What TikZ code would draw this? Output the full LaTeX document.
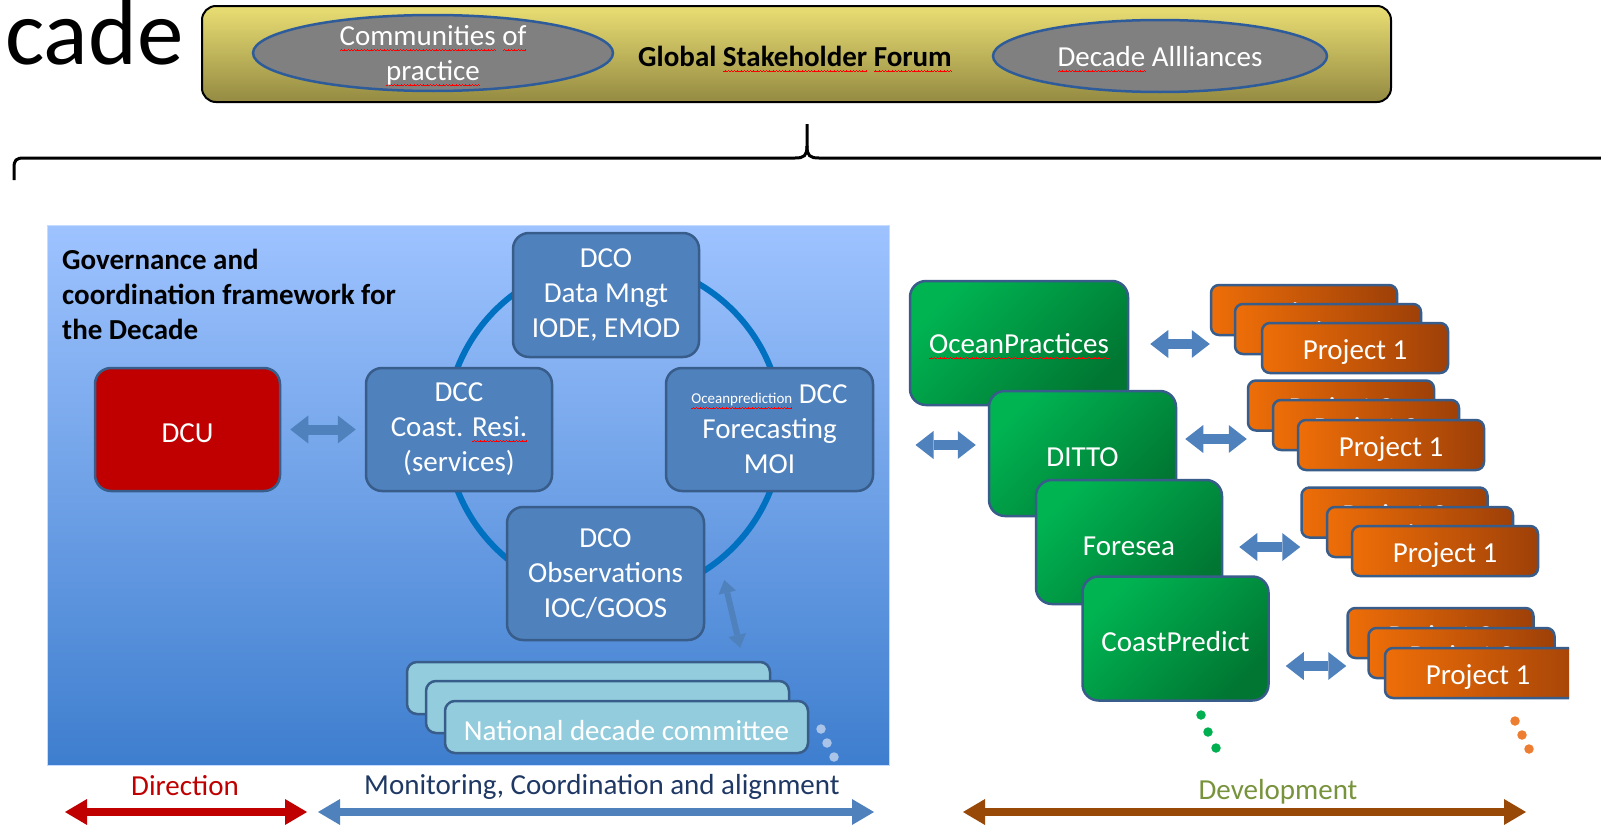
\documentclass[tikz,border=0pt]{standalone}
\usepackage{fontspec}
\setmainfont{Carlito}
\usetikzlibrary{arrows.meta,shapes.geometric,calc}
\definecolor{panTop}{RGB}{158,195,255}
\definecolor{panBot}{RGB}{62,126,206}
\definecolor{boxblue}{RGB}{79,129,189}
\definecolor{bord}{RGB}{56,93,138}
\definecolor{dcured}{RGB}{192,0,0}
\definecolor{grL}{RGB}{0,180,82}
\definecolor{grD}{RGB}{0,118,50}
\definecolor{orL}{RGB}{238,110,8}
\definecolor{orD}{RGB}{158,64,8}
\definecolor{natfill}{RGB}{147,205,221}
\definecolor{ylTop}{RGB}{233,222,115}
\definecolor{ylBot}{RGB}{148,138,66}
\definecolor{ellfill}{RGB}{128,128,128}
\definecolor{ellbord}{RGB}{46,92,154}
\definecolor{ringc}{RGB}{0,112,192}
\definecolor{montext}{RGB}{31,56,100}
\definecolor{devgreen}{RGB}{119,147,60}
\definecolor{brownc}{RGB}{152,72,7}
\definecolor{natdot}{RGB}{169,196,232}
\definecolor{ordot}{RGB}{237,125,49}
\definecolor{grdot}{RGB}{0,176,80}
\newsavebox\sqbox
\newcommand\sq[2]{\sbox\sqbox{#2}\rlap{\color{red}\hbox to \wd\sqbox{\xleaders\hbox{\rule[-5.2pt]{0.8pt}{0.8pt}\rule[-4.5pt]{0.8pt}{0.8pt}\rule[-3.8pt]{0.8pt}{0.8pt}\rule[-4.5pt]{0.8pt}{0.8pt}}\hfil}}{\color{#1}#2}}
\newcommand\hid[2]{\raisebox{-#1pt}{#2}}
\begin{document}
\begin{tikzpicture}[x=1pt,y=-1pt,
  every node/.style={inner sep=0pt},
  txt/.style={font=\fontsize{29}{35}\selectfont, align=center},
  low/.style={execute at begin node={\rule{0pt}{27pt}}},
  bx/.style={txt, low, draw=bord, line width=2.5pt, rounded corners=16pt, text=white},
  bluebox/.style={bx, fill=boxblue},
  greenbox/.style={bx, top color=grL, bottom color=grD, shading angle=45, minimum width=186pt, minimum height=124pt},
  orbox/.style={bx, rounded corners=8pt, left color=orL, right color=orD, minimum width=186pt, minimum height=50pt},
  natbox/.style={bx, rounded corners=10pt, fill=natfill, minimum width=363pt, minimum height=52pt},
  ell/.style={ellipse, draw=ellbord, line width=2.5pt, fill=ellfill, text=white, txt},
  blk/.style={boxblue, line width=10pt, {Triangle[length=18pt,width=28pt,line width=0pt]}-{Triangle[length=18pt,width=28pt,line width=0pt]}},
  thinblk/.style={boxblue, line width=6pt, {Triangle[length=13pt,width=18pt,line width=0pt]}-{Triangle[length=13pt,width=18pt,line width=0pt]}},
  bigarr/.style={line width=8pt, {Triangle[length=22pt,width=26pt,line width=0pt]}-{Triangle[length=22pt,width=26pt,line width=0pt]}},
  dot/.style={circle, minimum size=9.5pt}
]
\useasboundingbox (0,0) rectangle (1601,827);
\fill[white] (0,0) rectangle (1601,827);

% title fragment
\node[anchor=base west, font=\fontsize{93}{100}\selectfont] (cade) at (5,64) {cade};

% global stakeholder forum
\node[draw=black, line width=2pt, rounded corners=14pt, top color=ylTop, bottom color=ylBot,
      minimum width=1189pt, minimum height=96pt] (gsf) at (796.5,54) {};
\node[txt, low, font=\fontsize{29}{35}\selectfont\bfseries] (gsft) at (795,56) {Global \sq{black}{Stakeholder} \sq{black}{Forum}};
\node[ell, minimum width=360pt, minimum height=76pt] (cop) at (433,53) {};
\node[txt, low, text=white] (copt) at (433,56) {\sq{white}{Communities} \sq{white}{of}\\\sq{white}{practice}};
\node[ell, low, minimum width=334pt, minimum height=72pt] (da) at (1160,56) {\sq{white}{Decade} Allliances};

% brace
\draw[line width=3pt] (14,180) -- (14,168) .. controls (14,160) and (16,158) .. (24,158) -- (795,158)
  .. controls (804,158) and (807,156) .. (807,146) -- (807,124);
\draw[line width=3pt] (807,146) .. controls (807,156) and (810,158) .. (819,158) -- (1601,158);

% governance panel
\node[top color=panTop, bottom color=panBot, minimum width=842pt, minimum height=540pt, draw=panTop!60!white, line width=1pt] (panel) at (468,495) {};
\node[anchor=north west, font=\fontsize{29}{35}\selectfont\bfseries, align=left] (gov) at (62,249)
  {Governance and\\coordination framework for\\the Decade};

\draw[ringc, line width=6pt] (614,429) circle[radius=168pt];

\node[bluebox, minimum width=186pt, minimum height=124pt] (dco1) at (606,295) {DCO\\Data Mngt\\IODE, EMOD};
\node[bluebox, minimum width=186pt, minimum height=123pt] (dccl) at (459,429.5) {DCC\\Coast. \sq{white}{Resi.}\\(services)};
\node[bluebox, minimum width=207pt, minimum height=123pt] (dccr) at (769.5,429.5)
  {{\fontsize{15}{16}\selectfont\sq{white}{Oceanprediction}} DCC\\Forecasting\\MOI};
\node[bluebox, minimum width=197pt, minimum height=133pt] (dco2) at (605.5,573.5) {DCO\\Observations\\IOC/GOOS};
\node[bx, fill=dcured, minimum width=185pt, minimum height=123pt] (dcu) at (187.5,429.5) {DCU};

\draw[blk, shorten <=9pt, shorten >=9pt] (dcu.east) -- (dccl.west);

% national committees
\node[natbox] (nat1) at (588.5,688) {\hid{1.5}{National decade committee}};
\node[natbox] (nat2) at (607.5,707) {\hid{1.5}{National decade committee}};
\node[natbox] (nat3) at (626.5,727) {National decade committee};
\draw[thinblk] ($(dco2.east)+(19,6.5)$) -- ($(nat1.north east)+(-31,-13)$);
\node[dot, fill=natdot] (nd1) at (821,729) {};
\node[dot, fill=natdot] (nd2) at (827,743) {};
\node[dot, fill=natdot] (nd3) at (834,757) {};

% development side
\node[greenbox, minimum width=218pt] (op) at (1019,343) {\sq{white}{OceanPractices}};
\node[greenbox, minimum width=187pt, minimum height=125pt] (ditto) at (1082.5,453.5) {DITTO};
\node[greenbox] (foresea) at (1129,542) {Foresea};
\node[greenbox] (coast) at (1175.5,638.5) {CoastPredict};

% project stacks
\node[orbox] (s1b) at (1304,310) {\hid{2}{Project 3}};
\node[orbox] (s1m) at (1328,329) {\hid{2}{Project 2}};
\node[orbox] (s1f) at (1355,348) {Project 1};
\node[orbox] (s2b) at (1341,405.5) {\hid{2}{Project 3}};
\node[orbox] (s2m) at (1366,425) {\hid{2}{Project 2}};
\node[orbox] (s2f) at (1391,445) {Project 1};
\node[orbox] (s3b) at (1394.5,512.5) {\hid{2}{Project 3}};
\node[orbox] (s3m) at (1420,532) {\hid{2}{Project 2}};
\node[orbox] (s3f) at (1445,551) {Project 1};
\node[orbox] (s4b) at (1440.5,633) {\hid{2}{Project 3}};
\node[orbox] (s4m) at (1461.5,653) {\hid{2}{Project 2}};
\begin{scope}
\clip (0,0) rectangle (1569,827);
\node[orbox, minimum width=214pt] (s4f) at (1492,673) {Project 1\hspace{28pt}};
\end{scope}

\draw[blk] ($(op.east)+(21,1)$) -- ($(s1b.west |- op.east)+(0,1)$);
\draw[blk] ($(panel.east |- ditto.west)+(26,-8.5)$) -- ($(ditto.west)+(-12,-8.5)$);
\draw[blk] ($(ditto.east)+(8,-14.5)$) -- ($(s2b.west |- ditto.east)+(0,-14.5)$);
\draw[blk] ($(foresea.east)+(16,5)$) -- ($(s3b.west |- foresea.east)+(0,5)$);
\draw[blk] ($(coast.east)+(16,27.5)$) -- ($(s4b.west |- coast.east)+(0,27.5)$);

\node[dot, fill=grdot] (gd1) at (1201,715) {};
\node[dot, fill=grdot] (gd2) at (1208,732) {};
\node[dot, fill=grdot] (gd3) at (1216,748) {};
\node[dot, fill=ordot] (od1) at (1515,721) {};
\node[dot, fill=ordot] (od2) at (1522,735) {};
\node[dot, fill=ordot] (od3) at (1529,749) {};

% bottom labels and arrows
\node[txt, text=dcured] (dir) at (185,786) {Direction};
\node[txt, text=montext] (mon) at (602,787) {Monitoring, Coordination and alignment};
\node[txt, text=devgreen] (dev) at (1278,792) {Development};
\coordinate (dirL) at (65,812); \coordinate (dirR) at (307,812);
\coordinate (monL) at (318,812); \coordinate (monR) at (874,812);
\coordinate (devL) at (963,812); \coordinate (devR) at (1526,812);
\draw[bigarr, dcured] (dirL) -- (dirR);
\draw[bigarr, boxblue] (monL) -- (monR);
\draw[bigarr, brownc] (devL) -- (devR);
\end{tikzpicture}
\end{document}
